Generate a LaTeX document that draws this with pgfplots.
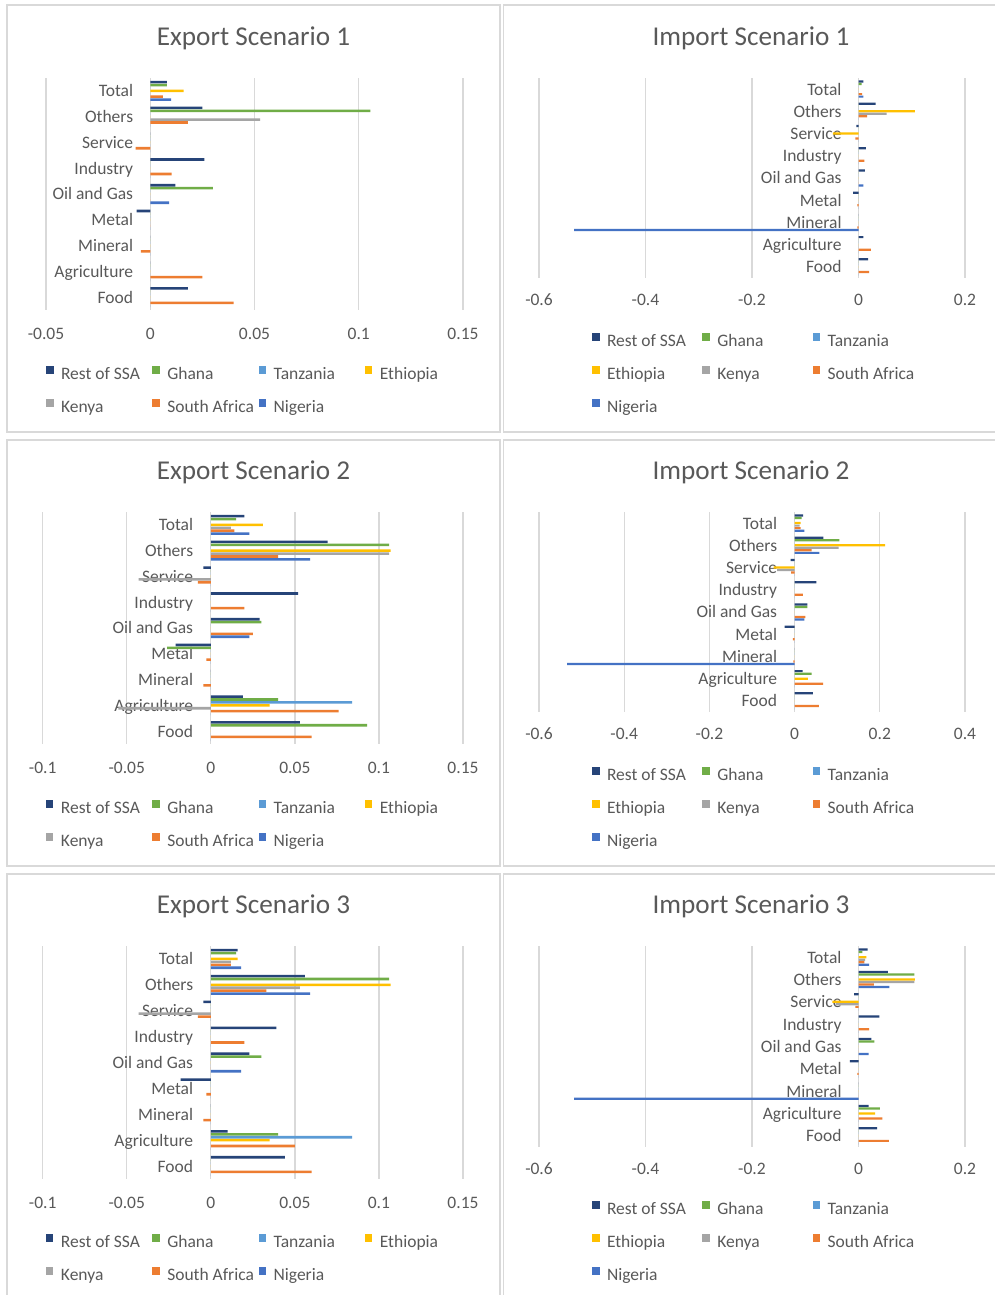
\documentclass[border=0pt]{standalone}
\usepackage{fontspec}
\setmainfont{Carlito}
\usepackage{pgfplots}
\usepackage{pgfplotstable}
\pgfplotsset{compat=1.18}

\definecolor{cRest}{HTML}{264478}
\definecolor{cGhana}{HTML}{70AD47}
\definecolor{cTanz}{HTML}{5B9BD5}
\definecolor{cEth}{HTML}{FFC000}
\definecolor{cKenya}{HTML}{A5A5A5}
\definecolor{cSA}{HTML}{ED7D31}
\definecolor{cNig}{HTML}{4472C4}
\definecolor{txt}{HTML}{595959}
\definecolor{gridc}{HTML}{D9D9D9}

% sectors: 0 Food, 1 Agriculture, 2 Mineral, 3 Metal, 4 Oil and Gas,
%          5 Industry, 6 Service, 7 Others, 8 Total
\pgfplotstableread{
y R G T E K S N
0 0.018 0 0 0 0 0.040 0
1 0 0 0 0 0 0.025 0
2 0 0 0 0 0 -0.0045 0
3 -0.0065 0 0 0 0 0 0
4 0.012 0.030 0 0 0 0 0.009
5 0.026 0 0 0 0 0.0103 0
6 0 0 0 0 0 -0.007 0
7 0.025 0.1056 0 0 0.0527 0.018 0
8 0.008 0.008 0 0.016 0 0.006 0.010
}\expA

\pgfplotstableread{
y R G T E K S N
0 0.053 0.093 0 0 0 0.060 0
1 0.019 0.040 0.084 0.035 -0.055 0.076 0
2 0 0 0 0 0 -0.0045 0
3 -0.021 -0.026 0 0 0 -0.0026 0
4 0.029 0.030 0 0 0 0.025 0.023
5 0.052 0 0 0 0 0.020 0
6 -0.0045 0 0 0 -0.043 -0.0077 0
7 0.0695 0.106 0 0.107 0.106 0.040 0.059
8 0.020 0.015 0 0.031 0.012 0.014 0.023
}\expB

\pgfplotstableread{
y R G T E K S N
0 0.044 0 0 0 0 0.060 0
1 0.010 0.040 0.084 0.035 0 0.050 0
2 0 0 0 0 0 -0.0045 0
3 -0.018 0 0 0 0 -0.0026 0
4 0.023 0.030 0 0 0 0 0.018
5 0.039 0 0 0 0 0.020 0
6 -0.0045 0 0 0 -0.043 -0.0077 0
7 0.056 0.106 0 0.107 0.053 0.033 0.059
8 0.016 0.015 0 0.016 0.012 0.012 0.018
}\expC

\pgfplotstableread{
y R G T E K S N
0 0.018 0 0 0 0 0.020 0
1 0.009 0 0 0 0 0.023 0
2 0 0 0 0 0 -0.002 -0.534
3 -0.010 0 0 0 0 -0.002 0
4 0.012 0 0 0 0 0 0.009
5 0.014 0 0 0 0 0.011 0
6 -0.004 0 0 -0.048 0 -0.006 0
7 0.032 0 0 0.106 0.053 0.016 0
8 0.009 0.006 0 0 0 0.007 0.009
}\impA

\pgfplotstableread{
y R G T E K S N
0 0.043 0 0 0 0 0.057 0
1 0.019 0.040 0 0.031 0 0.067 0
2 0 0 0 0 0 -0.003 -0.534
3 -0.0235 0 0 0 0 -0.004 0
4 0.030 0.030 0 0 0 0.025 0.023
5 0.051 0 0 0 0 0.0196 0
6 -0.0094 0 0 -0.049 -0.041 -0.008 0
7 0.0675 0.105 0 0.2125 0.1035 0.040 0.058
8 0.020 0.0165 0 0.014 0.012 0.014 0.023
}\impB

\pgfplotstableread{
y R G T E K S N
0 0.035 0 0 0 0 0.057 0
1 0.019 0.040 0 0.031 0 0.045 0
2 0 0 0 0 0 0 -0.534
3 -0.016 0 0 0 0 -0.002 0
4 0.024 0.030 0 0 0 0 0.019
5 0.039 0 0 0 0 0.020 0
6 -0.008 0 0 -0.049 -0.043 -0.006 0
7 0.055 0.105 0 0.106 0.105 0.029 0.058
8 0.017 0.0075 0 0.015 0.0125 0.011 0.020
}\impC

% seven country series of one scenario; #2 = width of a legend text cell
\newcommand{\sectorbars}[2]{%
  \addplot[fill=cRest, draw=none, bar shift=0.339] table[x=R,y=y]{#1};
  \addlegendentry{\makebox[#2][l]{Rest of SSA}}
  \addplot[fill=cGhana, draw=none, bar shift=0.226] table[x=G,y=y]{#1};
  \addlegendentry{\makebox[#2][l]{Ghana}}
  \addplot[fill=cTanz, draw=none, bar shift=0.113] table[x=T,y=y]{#1};
  \addlegendentry{\makebox[#2][l]{Tanzania}}
  \addplot[fill=cEth, draw=none, bar shift=0] table[x=E,y=y]{#1};
  \addlegendentry{\makebox[#2][l]{Ethiopia}}
  \addplot[fill=cKenya, draw=none, bar shift=-0.113] table[x=K,y=y]{#1};
  \addlegendentry{\makebox[#2][l]{Kenya}}
  \addplot[fill=cSA, draw=none, bar shift=-0.226] table[x=S,y=y]{#1};
  \addlegendentry{\makebox[#2][l]{South Africa}}
  \addplot[fill=cNig, draw=none, bar shift=-0.339] table[x=N,y=y]{#1};
  \addlegendentry{\makebox[#2][l]{Nigeria}}
}

\pgfplotsset{
  sectoraxis/.style={
    scale only axis, xbar, bar width=0.1,
    enlargelimits=false,
    ymin=-0.5, ymax=8.5, ytick={0,...,8},
    yticklabels={Food,Agriculture,Mineral,Metal,Oil and Gas,Industry,Service,Others,Total},
    axis line style={draw=none},
    major tick length=0pt,
    xmajorgrids=true, ymajorgrids=false,
    grid style={draw=gridc, line width=1.3pt},
    tick label style={font=\fontsize{17.5}{21}\selectfont, text=txt},
    /pgf/number format/assume math mode=true,
    scaled x ticks=false,
    xticklabel style={/pgf/number format/fixed, /pgf/number format/precision=2, anchor=center},
    yticklabel style={anchor=east, inner sep=0pt, text height=12pt, text depth=4pt, yshift=-2pt},
    legend cell align=left,
    legend image code/.code={\fill[##1] (0pt,2pt) rectangle (7.5pt,9.5pt);},
    legend style={draw=none, fill=none, inner sep=0pt, outer sep=0pt,
      font=\fontsize{17.5}{21}\selectfont, text=txt,
      nodes={inner sep=0pt, text height=12pt, text depth=4pt},
      row sep=15.4pt,
      /tikz/every odd column/.append style={column sep=7.5pt},
      anchor=north west},
  }
}

\begin{document}
\begin{tikzpicture}[x=1pt,y=1pt]
\useasboundingbox (0,0) rectangle (994,1295);
\fill[white] (0,0) rectangle (994,1295);

% chart frames
\begin{scope}[draw=gridc, line width=1.3pt]
  \draw (7,863) rectangle (500,1290);
  \draw (503.5,863) rectangle (1000,1290);
  \draw (7,429) rectangle (500,855);
  \draw (503.5,429) rectangle (1000,855);
  \draw (7,-10) rectangle (500,421);
  \draw (503.5,-10) rectangle (1000,421);
\end{scope}

% titles
\begin{scope}[every node/.style={font=\fontsize{27.2}{31}\selectfont, text=txt, anchor=base}]
  \node at (253.5,1249) {Export Scenario 1};
  \node at (751,1249) {Import Scenario 1};
  \node at (253.5,815) {Export Scenario 2};
  \node at (751,815) {Import Scenario 2};
  \node at (253.5,381) {Export Scenario 3};
  \node at (751,381) {Import Scenario 3};
\end{scope}

% Export Scenario 1
\begin{axis}[sectoraxis, at={(46pt,985pt)}, anchor=south west,
  width=417pt, height=232pt,
  xmin=-0.05, xmax=0.15, xtick={-0.05,0,0.05,0.1,0.15},
  xticklabel style={yshift=-24pt}, yticklabel style={xshift=87.3pt},
  legend columns=4, legend style={at={(0,-0.243)}}]
  \sectorbars{\expA}{91.3pt}
\end{axis}

% Import Scenario 1
\begin{axis}[sectoraxis, at={(539pt,1017pt)}, anchor=south west,
  width=426pt, height=200pt,
  xmin=-0.6, xmax=0.2, xtick={-0.6,-0.4,-0.2,0,0.2},
  xticklabel style={yshift=-22pt}, yticklabel style={xshift=302.7pt},
  legend columns=3, legend style={at={(0.1244,-0.277)}}]
  \sectorbars{\impA}{95.3pt}
\end{axis}

% Export Scenario 2
\begin{axis}[sectoraxis, at={(42.7pt,551pt)}, anchor=south west,
  width=420.3pt, height=232pt,
  xmin=-0.1, xmax=0.15, xtick={-0.1,-0.05,0,0.05,0.1,0.15},
  xticklabel style={yshift=-24pt}, yticklabel style={xshift=150.6pt},
  legend columns=4, legend style={at={(0.00785,-0.243)}}]
  \sectorbars{\expB}{91.3pt}
\end{axis}

% Import Scenario 2
\begin{axis}[sectoraxis, at={(539pt,583pt)}, anchor=south west,
  width=426pt, height=200pt,
  xmin=-0.6, xmax=0.4, xtick={-0.6,-0.4,-0.2,0,0.2,0.4},
  xticklabel style={yshift=-22pt}, yticklabel style={xshift=238.3pt},
  legend columns=3, legend style={at={(0.1244,-0.277)}}]
  \sectorbars{\impB}{95.3pt}
\end{axis}

% Export Scenario 3
\begin{axis}[sectoraxis, at={(42.7pt,116pt)}, anchor=south west,
  width=420.3pt, height=233pt,
  xmin=-0.1, xmax=0.15, xtick={-0.1,-0.05,0,0.05,0.1,0.15},
  xticklabel style={yshift=-24pt}, yticklabel style={xshift=150.6pt},
  legend columns=4, legend style={at={(0.00785,-0.2376)}}]
  \sectorbars{\expC}{91.3pt}
\end{axis}

% Import Scenario 3
\begin{axis}[sectoraxis, at={(539pt,148pt)}, anchor=south west,
  width=426pt, height=201pt,
  xmin=-0.6, xmax=0.2, xtick={-0.6,-0.4,-0.2,0,0.2},
  xticklabel style={yshift=-22pt}, yticklabel style={xshift=302.7pt},
  legend columns=3, legend style={at={(0.1244,-0.2705)}}]
  \sectorbars{\impC}{95.3pt}
\end{axis}
\end{tikzpicture}
\end{document}
